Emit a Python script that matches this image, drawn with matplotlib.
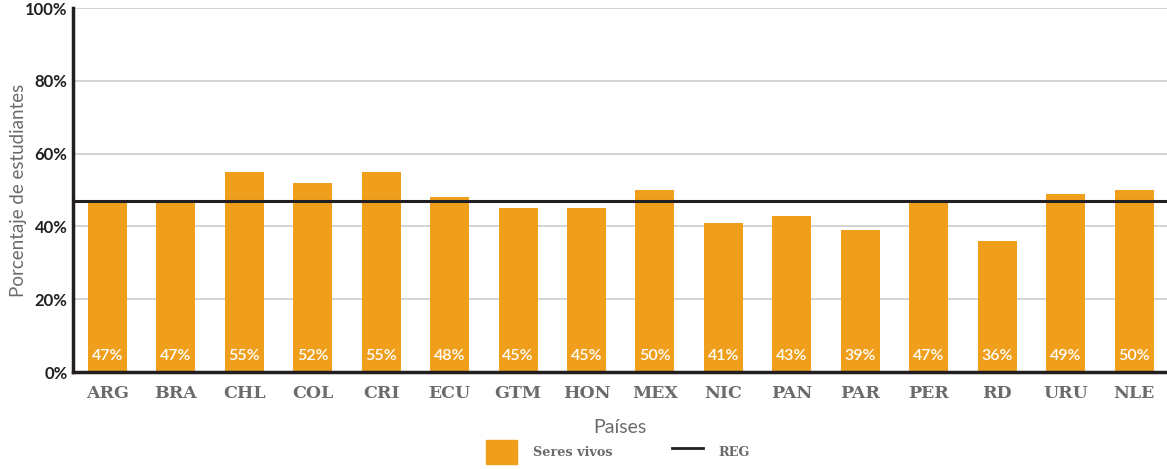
import matplotlib
matplotlib.use("Agg")
import matplotlib.pyplot as plt
from matplotlib.patches import Rectangle
from matplotlib.lines import Line2D

countries = ["ARG", "BRA", "CHL", "COL", "CRI", "ECU", "GTM", "HON", "MEX",
             "NIC", "PAN", "PAR", "PER", "RD", "URU", "NLE"]
seres_vivos = [47, 47, 55, 52, 55, 48, 45, 45, 50, 41, 43, 39, 47, 36, 49, 50]
reg_value = 47
yticks = [0, 20, 40, 60, 80, 100]
ytick_labels = ["0%", "20%", "40%", "60%", "80%", "100%"]

orange = "#EF9F1C"
grey = "#6B6B6B"

fig = plt.figure(figsize=(11.67, 4.69), dpi=100)
ax = fig.add_axes([0.0626, 0.2068, 0.9374, 0.776])

x = list(range(len(countries)))
ax.bar(x, seres_vivos, width=0.57, color=orange, zorder=2)
ax.axhline(reg_value, color="#231F20", lw=2.2, zorder=3)

for xi, v in zip(x, seres_vivos):
    ax.text(xi, 2.6, f"{v}%", ha="center", va="bottom", color="white",
            fontsize=11.5, family="Lato", fontweight="semibold", zorder=4)

ax.set_xlim(-0.5, 15.48)
ax.set_ylim(0, 100)
ax.set_yticks(yticks)
ax.set_yticklabels(ytick_labels, family="Lato", fontweight="bold",
                   fontsize=12, color="#231F20")
ax.set_xticks(x)
ax.set_xticklabels(countries, family="DejaVu Serif", fontweight="bold",
                   fontsize=12.5, color=grey)
ax.tick_params(axis="both", length=0)
ax.tick_params(axis="x", pad=9)
ax.tick_params(axis="y", pad=4)
ax.grid(axis="y", color="#CCCCCC", lw=1.2, zorder=0)
for s in ["top", "right"]:
    ax.spines[s].set_visible(False)
ax.spines["left"].set_linewidth(2.5)
ax.spines["left"].set_color("#231F20")
ax.spines["bottom"].set_linewidth(2.5)
ax.spines["bottom"].set_color("#231F20")

ax.set_ylabel("Porcentaje de estudiantes", family="Lato",
              fontsize=13.5, color=grey, va="center")
ax.yaxis.set_label_coords(-0.0503, 0.5)
fig.text(620 / 1167, 1 - 427 / 469, "Países", ha="center", va="center",
         family="Lato", fontsize=14, color=grey)

handles = [Rectangle((0, 0), 1, 1, color=orange),
           Line2D([0], [0], color="#231F20", lw=2)]
leg = fig.legend(handles, ["Seres vivos", "REG"], loc="center",
                 bbox_to_anchor=(618 / 1167, 1 - 452 / 469), ncol=2,
                 frameon=False,
                 prop={"family": "DejaVu Serif", "weight": "bold", "size": 9.3},
                 handlelength=2.4, handleheight=2.4, columnspacing=4.6,
                 handletextpad=1.2)
for t in leg.get_texts():
    t.set_color(grey)

fig.savefig("out.png", dpi=100)
